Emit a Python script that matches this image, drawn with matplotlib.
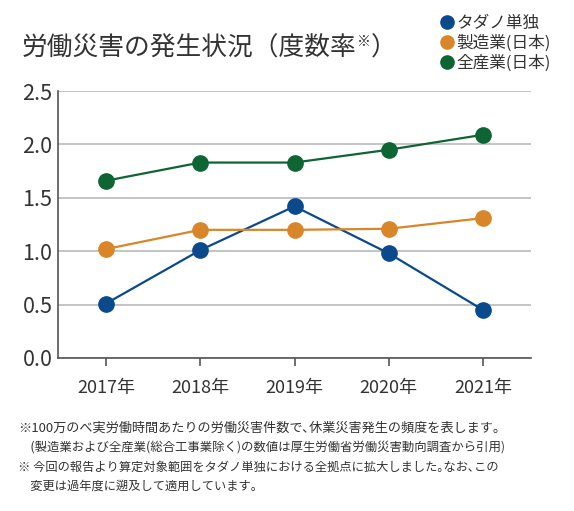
import matplotlib
matplotlib.use("Agg")
import matplotlib.pyplot as plt
from matplotlib.lines import Line2D

plt.rcParams['font.family'] = ['Noto Sans CJK JP', 'DejaVu Sans']

years = ['2017年', '2018年', '2019年', '2020年', '2021年']
tadano = [0.51, 1.01, 1.42, 0.98, 0.45]
manufacturing = [1.02, 1.20, 1.20, 1.21, 1.31]
all_industry = [1.66, 1.83, 1.83, 1.95, 2.09]

series_names = ['タダノ単独', '製造業(日本)', '全産業(日本)']
colors = ['#0a4a8c', '#d9862a', '#0d6533']

title_main = '労働災害の発生状況（度数率'
title_mark = '※'
title_end = '）'
# halfwidth punctuation inside lines mimics the tight typesetting of the source
notes = [
    '※100万のべ実労働時間あたりの労働災害件数で､休業災害発生の頻度を表します。',
    '　(製造業および全産業(総合工事業除く)の数値は厚生労働省労働災害動向調査から引用)',
    '※ 今回の報告より算定対象範囲をタダノ単独における全拠点に拡大しました｡なお､この',
    '　変更は過年度に遡及して適用しています。',
]

W, H = 574, 511
fig = plt.figure(figsize=(W / 100, H / 100), dpi=100)
ax = fig.add_axes([58 / W, 1 - 358 / H, (531 - 58) / W, (358 - 91) / H])

x = list(range(len(years)))
data = [tadano, manufacturing, all_industry]
for vals, c in zip(data, colors):
    ax.plot(x, vals, color=c, lw=1.6, marker='o', ms=11, zorder=3)

ax.set_xlim(-0.51, 4.51)
ax.set_ylim(0, 2.5)
ax.set_yticks([0, 0.5, 1.0, 1.5, 2.0, 2.5])
ax.set_yticklabels(['0.0', '0.5', '1.0', '1.5', '2.0', '2.5'])
ax.set_xticks(x)
ax.set_xticklabels(years)
ax.grid(axis='y', color='#b4b4b4', lw=1.1, zorder=0)
ax.set_axisbelow(True)
for s in ['top', 'right']:
    ax.spines[s].set_visible(False)
for s in ['left', 'bottom']:
    ax.spines[s].set_color('#555555')
    ax.spines[s].set_linewidth(1.2)
ax.tick_params(axis='y', length=0, labelsize=15.5, pad=4, labelcolor='#333333')
ax.tick_params(axis='x', length=6, width=1.2, color='#555555', labelsize=13,
               pad=9, labelcolor='#333333')

# title built from pieces so the note mark can sit small and raised
renderer = fig.canvas.get_renderer()
inv = fig.transFigure.inverted()
t1 = fig.text(22 / W, 1 - 49 / H, title_main, fontsize=18.5, color='#333333', va='center')
bb = t1.get_window_extent(renderer)
x_end = inv.transform((bb.x1, 0))[0]
t2 = fig.text(x_end, 1 - 42 / H, title_mark, fontsize=10, color='#333333', va='center')
bb2 = t2.get_window_extent(renderer)
x_end2 = inv.transform((bb2.x1, 0))[0]
fig.text(x_end2, 1 - 49 / H, title_end, fontsize=18.5, color='#333333', va='center')

handles = [Line2D([], [], color=c, marker='o', ls='', ms=9.5) for c in colors]
fig.legend(handles, series_names, loc='upper left', bbox_to_anchor=(430 / W, 1 - 8 / H),
           frameon=False, fontsize=12, handletextpad=0.0, labelspacing=0.17,
           borderaxespad=0, handlelength=1.2, labelcolor='#333333')

# footnotes: shrink/grow each line a little so it ends where the source line ends
note_rows = [428, 447, 467, 486]
note_right = [508, 508, 490, 262]
for line, yy, right in zip(notes, note_rows, note_right):
    t = fig.text(18 / W, 1 - yy / H, line, fontsize=9.6, color='#333333', va='center')
    bb = t.get_window_extent(renderer)
    scale = (right - 18) / bb.width
    t.set_fontsize(min(10.2, max(8.8, 9.6 * scale)))

fig.savefig('out.png', dpi=100)
